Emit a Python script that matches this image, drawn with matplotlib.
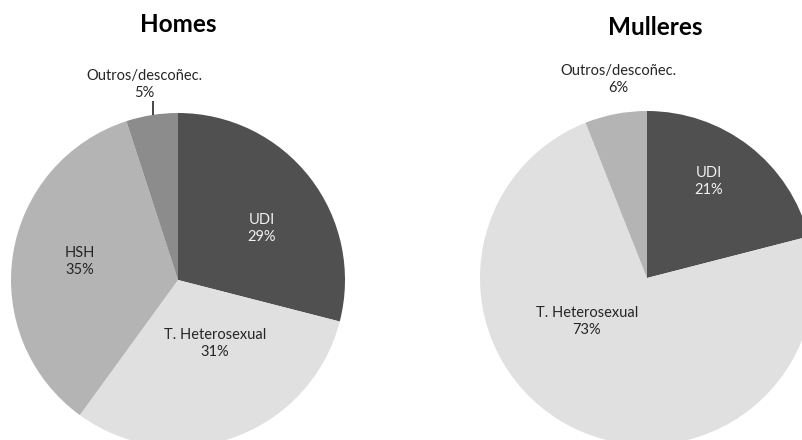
import numpy as np
import matplotlib.pyplot as plt

plt.rcParams['font.family'] = ['Lato', 'DejaVu Sans']

# ============================================================
#   DATA
# ============================================================
homes_labels = ["UDI", "T. Heterosexual", "HSH", "Outros/descoñec."]
homes_values = [29, 31, 35, 5]
homes_colors = ["#505050", "#e0e0e0", "#b4b4b4", "#8c8c8c"]
homes_text_colors = ["#f2f2f2", "#262626", "#262626", "#262626"]

mulleres_labels = ["UDI", "T. Heterosexual", "Outros/descoñec."]
mulleres_values = [21, 73, 6]
mulleres_colors = ["#505050", "#e0e0e0", "#b4b4b4"]
mulleres_text_colors = ["#f2f2f2", "#262626", "#262626"]

# label positions in pie-radius units (relative to pie centre)
homes_label_pos = [(0.50, 0.31), (0.22, -0.38), (-0.59, 0.11), (-0.20, 1.17)]
mulleres_label_pos = [(0.37, 0.58), (-0.36, -0.26), (-0.17, 1.19)]

W, H = 802, 440
R = 167          # pie radius in pixels
SPAN = 1.35      # half-width of axes in radii


def pie_axes(fig, cx, cy_top):
    # cx, cy_top: pie centre in pixel coords, y measured from top
    half = SPAN * R
    cy = H - cy_top
    return fig.add_axes([(cx - half) / W, (cy - half) / H, 2 * half / W, 2 * half / H])


def draw_pie(ax, values, colors, labels, text_colors, label_pos, title, title_xy, leader=None):
    ax.pie(values, colors=colors, startangle=90, counterclock=False, radius=1,
           wedgeprops=dict(linewidth=0))
    ax.set_xlim(-SPAN, SPAN)
    ax.set_ylim(-SPAN, SPAN)
    ax.set_aspect("equal")
    ax.axis("off")
    for lab, v, tc, (x, y) in zip(labels, values, text_colors, label_pos):
        ax.text(x, y, f"{lab}\n{v}%", ha="center", va="center", fontsize=10.5,
                color=tc, linespacing=1.25)
    if leader is not None:
        ax.plot([leader[0], leader[0]], [leader[1], leader[2]], color="#262626",
                lw=1.2, solid_capstyle="butt", clip_on=False)
    ax.text(title_xy[0], title_xy[1], title, ha="center", va="center",
            fontsize=17.5, fontweight="bold", color="black")


fig = plt.figure(figsize=(W / 100, H / 100), dpi=100)

ax1 = pie_axes(fig, 178, 280)
draw_pie(ax1, homes_values, homes_colors, homes_labels, homes_text_colors, homes_label_pos,
         "Homes", (0.0, (280 - 25) / R), leader=(-0.15, 0.99, 1.07))

ax2 = pie_axes(fig, 647, 278)
draw_pie(ax2, mulleres_values, mulleres_colors, mulleres_labels, mulleres_text_colors,
         mulleres_label_pos, "Mulleres", ((655 - 647) / R, (278 - 27) / R))

fig.savefig("out.png", dpi=100)
